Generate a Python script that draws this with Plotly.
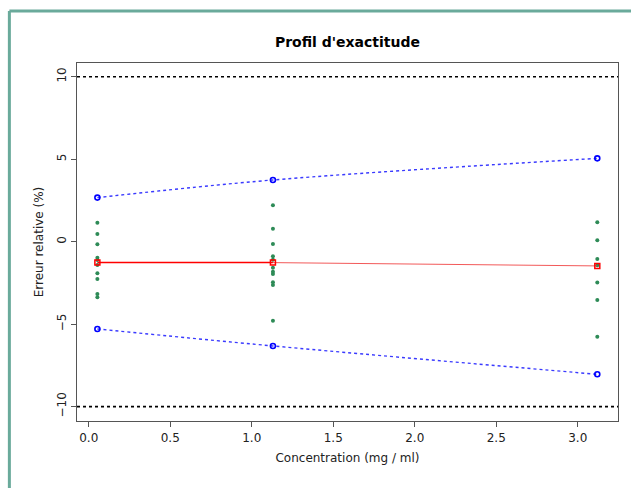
import plotly.graph_objects as go

# ---- data ----
conc = [0.053, 1.13, 3.12]
upper_tol = [2.67, 3.74, 5.05]
lower_tol = [-5.29, -6.32, -8.04]
mean_bias = [-1.27, -1.27, -1.47]
errors_lvl1 = [1.15, 0.47, -0.16, -0.97, -1.11, -1.41, -1.92, -2.26, -3.17, -3.37]
errors_lvl2 = [2.21, 0.79, -0.14, -0.88, -1.09, -1.58, -1.82, -1.96, -2.46, -2.62, -4.79]
errors_lvl3 = [1.18, 0.08, -1.05, -1.43, -2.48, -3.53, -5.76]
limits = [-10, 10]
x_ticks = [0.0, 0.5, 1.0, 1.5, 2.0, 2.5, 3.0]
y_ticks = [-10, -5, 0, 5, 10]

FONT = "DejaVu Sans"
fig = go.Figure()

# acceptance limits
for lim in limits:
    fig.add_hline(y=lim, line=dict(color="black", width=1.6, dash="dot"), layer="above")

# tolerance interval curves
for band in (upper_tol, lower_tol):
    fig.add_trace(go.Scatter(
        x=conc, y=band, mode="lines",
        line=dict(color="#3a3aff", width=1.4, dash="dot", shape="spline"),
        showlegend=False, hoverinfo="skip"))
    fig.add_trace(go.Scatter(
        x=conc, y=band, mode="markers",
        marker=dict(symbol="circle-open", size=5, color="blue", line=dict(width=1.6, color="blue")),
        showlegend=False))

# individual relative errors
for lvl, errs in zip(conc, (errors_lvl1, errors_lvl2, errors_lvl3)):
    fig.add_trace(go.Scatter(
        x=[lvl] * len(errs), y=errs, mode="markers",
        marker=dict(size=4, color="#2e8b57"),
        showlegend=False))

# mean bias line
fig.add_trace(go.Scatter(
    x=conc[:2], y=mean_bias[:2], mode="lines",
    line=dict(color="red", width=1.5), showlegend=False))
fig.add_trace(go.Scatter(
    x=conc[1:], y=mean_bias[1:], mode="lines",
    line=dict(color="rgba(240,60,60,0.85)", width=1), showlegend=False))
fig.add_trace(go.Scatter(
    x=conc, y=mean_bias, mode="markers",
    marker=dict(symbol="square-open", size=5, color="red", line=dict(width=1.5, color="red")),
    showlegend=False))

# teal frame (paper coordinates)
frame_col = "#6aaa9b"
fig.add_shape(type="line", xref="paper", yref="paper",
              x0=-0.125, x1=1.05, y0=1.145, y1=1.145,
              line=dict(color=frame_col, width=3))
fig.add_shape(type="line", xref="paper", yref="paper",
              x0=-0.125, x1=-0.125, y0=1.145, y1=-0.3,
              line=dict(color=frame_col, width=3))

axis_common = dict(
    showgrid=False, zeroline=False, showline=True, mirror=True,
    linecolor="#555555", linewidth=1.2, ticks="outside", ticklen=5,
    tickcolor="#555555", tickfont=dict(family=FONT, size=12, color="#222"),
)

fig.update_layout(
    width=631, height=488,
    margin=dict(l=77, r=13, t=63, b=67),
    paper_bgcolor="white", plot_bgcolor="white",
    title=dict(text="<b>Profil d'exactitude</b>", x=(77 + 541 / 2) / 631, xanchor="center",
               y=1 - 42 / 488, yanchor="middle",
               font=dict(family=FONT, size=14, color="black")),
    xaxis=dict(range=[-0.072, 3.247], tickvals=x_ticks, tickformat=".1f",
               title=dict(text="Concentration (mg / ml)", standoff=10,
                          font=dict(family=FONT, size=12, color="#222")),
               **axis_common),
    yaxis=dict(range=[-10.87, 10.83], tickvals=y_ticks, tickangle=-90,
               title=dict(text="Erreur relative (%)", standoff=8,
                          font=dict(family=FONT, size=12, color="#222")),
               **axis_common),
)

fig.write_html("out.html", config={"displayModeBar": False},
               post_script="document.body.style.margin='0';document.body.style.padding='0';")
